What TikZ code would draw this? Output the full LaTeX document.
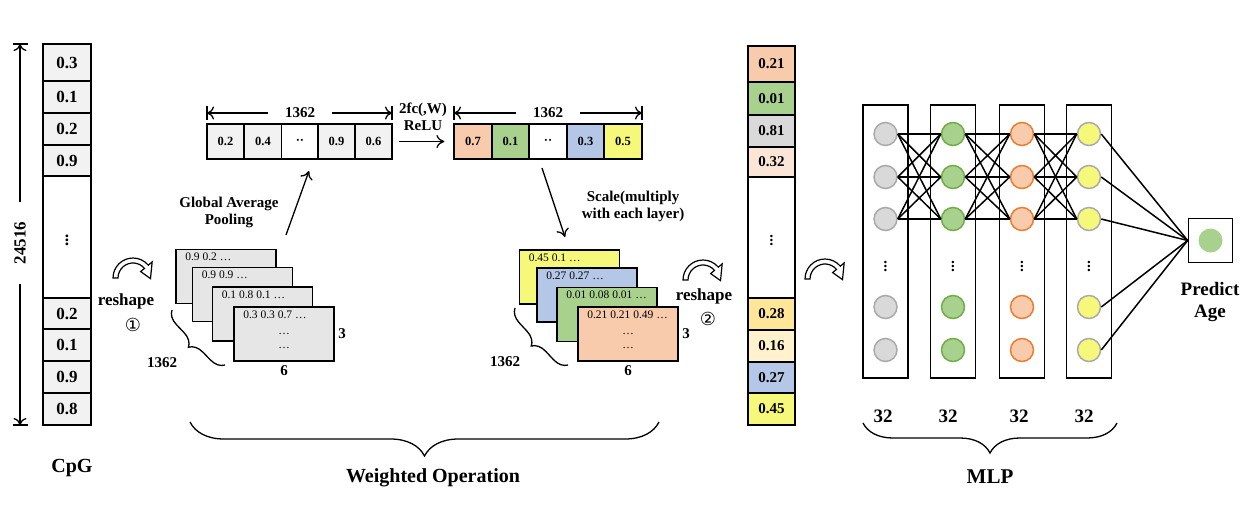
\documentclass[tikz,border=0pt]{standalone}
\usepackage{fontspec}
\setmainfont{Liberation Serif}
\newfontfamily\symfont{DejaVu Sans}
\usetikzlibrary{arrows.meta,positioning,decorations.pathreplacing}
\definecolor{cgray}{RGB}{242,242,242}
\definecolor{sgray}{RGB}{231,230,230}
\definecolor{cdgray}{RGB}{217,217,217}
\definecolor{corange}{RGB}{248,203,173}
\definecolor{cgreen}{RGB}{169,209,142}
\definecolor{cblue}{RGB}{180,199,231}
\definecolor{cyellow}{RGB}{246,248,122}
\definecolor{cpeach}{RGB}{251,229,214}
\definecolor{cgold}{RGB}{255,230,153}
\definecolor{ccream}{RGB}{255,242,204}
\definecolor{gborder}{RGB}{112,173,71}
\definecolor{oborder}{RGB}{237,125,49}
\definecolor{nborder}{RGB}{170,170,170}
\tikzset{
  cell/.style={draw, line width=1.7pt, inner sep=0pt, font=\bfseries\fontsize{12.5}{14}\selectfont},
  bold/.style={font=\bfseries\fontsize{15}{17}\selectfont, align=center},
  plain/.style={font=\fontsize{11.5}{13}\selectfont, inner sep=1pt},
  sheet/.style={draw, line width=1.7pt, minimum width=100pt, minimum height=54pt, inner sep=0pt},
  neuron/.style={circle, line width=1.5pt, minimum size=23pt, inner sep=0pt},
  lbox/.style={draw, line width=1.7pt, minimum width=45pt, minimum height=273pt, inner sep=0pt},
  link/.style={line width=1.5pt},
  dimline/.style={line width=1.3pt, -{To[length=7pt,width=13pt]}},
  flow/.style={line width=1.3pt, -{To[length=8pt,width=13pt]}},
  curly/.style={decorate, line width=1.3pt, decoration={brace, amplitude=#1}},
  turn/.pic={
    \draw[line width=1.2pt, fill=white] (180:20) arc[start angle=180, end angle=320, radius=20]
      -- (320:25) -- (2:17.5) -- (320:10) -- (320:15)
      arc[start angle=320, end angle=180, radius=15] -- cycle;
  }
}

\begin{document}
\begin{tikzpicture}[x=1pt,y=-1pt]
  \useasboundingbox (0,0) rectangle (1255,512);

  % input column
  \foreach \y/\hh/\fc/\txt [count=\i] in {62.5/37/cgray/0.3, 97/32/cgray/0.1, 129/32/cgray/0.2,
      160.5/31/cgray/0.9, 237/122/white/$\vdots$, 313.5/31/cgray/0.2, 345/32/cgray/0.1,
      377/32/cgray/0.9, 409/32/cgray/0.8}
    \node[cell, font=\bfseries\fontsize{17}{19}\selectfont, fill=\fc, minimum width=48pt,
      minimum height=\hh pt] (cpg\i) at (67,\y) {\txt};
  \coordinate (cpgtop) at (20,44);
  \coordinate (cpgbot) at (20,425);
  \draw[line width=1.3pt] (13,44) -- (28,44) (13,425) -- (28,425);
  \node[bold, font=\bfseries\fontsize{17}{19}\selectfont, rotate=90, inner xsep=20pt] (cpglen) at (20,243) {24516};
  \draw[dimline] (cpglen) -- (cpgtop);
  \draw[dimline] (cpglen) -- (cpgbot);
  \node[bold, font=\bfseries\fontsize{20}{22}\selectfont] (cpglab) at (72,468) {CpG};

  \pic at (133,278) {turn};
  \node[bold, font=\bfseries\fontsize{17}{19}\selectfont] (resh1) at (126,301) {reshape};
  \node[font=\symfont\fontsize{18}{20}\selectfont] (num1) at (133,325) {①};

  % pooled vector
  \foreach \x/\fc/\txt [count=\i] in {225.5/cgray/0.2, 263/cgray/0.4, 300/white/··, 336.5/cgray/0.9, 373.5/cgray/0.6}
    \node[cell, fill=\fc, minimum width=37pt, minimum height=35pt] (gap\i) at (\x,141.5) {\txt};
  \coordinate (gapleft) at (207,113);
  \coordinate (gapright) at (392,113);
  \draw[line width=1.3pt] (207,106) -- (207,120) (392,106) -- (392,120);
  \node[bold, inner xsep=17pt] (gaplen) at (300,113) {1362};
  \draw[dimline] (gaplen) -- (gapleft);
  \draw[dimline] (gaplen) -- (gapright);

  % weights vector
  \foreach \x/\fc/\txt [count=\i] in {473/corange/0.7, 510.5/cgreen/0.1, 548/white/··, 585.5/cblue/0.3, 623/cyellow/0.5}
    \node[cell, fill=\fc, minimum width=37.5pt, minimum height=35pt] (fc\i) at (\x,141.5) {\txt};
  \coordinate (fcleft) at (454,113);
  \coordinate (fcright) at (642,113);
  \draw[line width=1.3pt] (454,106) -- (454,120) (642,106) -- (642,120);
  \node[bold, inner xsep=17pt] (fclen) at (548,113) {1362};
  \draw[dimline] (fclen) -- (fcleft);
  \draw[dimline] (fclen) -- (fcright);

  \node[bold, inner sep=0pt] (fclab) at (423,117) {2fc(,W)\\ReLU};
  \draw[flow, shorten <=6pt, shorten >=9pt] (gap5.east) -- (fc1.west);

  \coordinate (gaptail) at (286,235);
  \coordinate (gaptip) at (309,171);
  \draw[flow] (gaptail) -- (gaptip);
  \node[bold] (gaplab) at (229,212) {Global Average\\Pooling};

  \coordinate (scaletail) at (542,168);
  \coordinate (scaletip) at (565,237);
  \draw[flow] (scaletail) -- (scaletip);
  \node[bold] (scalelab) at (633,206) {Scale(multiply\\with each layer)};

  % reshaped input
  \foreach \x/\y/\txt [count=\i] in {226/276.5/0.9 0.2 …, 242.5/294.5/0.9 0.9 …,
      262.5/314/0.1 0.8 0.1 …, 284/334/0.3 0.3 0.7 …} {
    \node[sheet, fill=sgray] (ls\i) at (\x,\y) {};
    \node[plain, below right=3pt and 9pt of ls\i.north west] {\txt};
  }
  \node[plain] (ldots1) at (ls4.center) {…};
  \node[plain, yshift=-14pt] (ldots2) at (ls4.center) {…};
  \node[bold, right=0pt of ls4] (lrows) {3};
  \node[bold, below=0pt of ls4] (lcols) {6};
  \draw[curly=14pt] (225,365) -- (172,310);
  \node[bold] (ldepth) at (162,363) {1362};

  % weighted maps
  \foreach \x/\y/\fc/\txt [count=\i] in {569.5/277/cyellow/0.45 0.1 …, 587/295/cblue/0.27 0.27 …,
      607/314.5/cgreen/0.01 0.08 0.01 …, 628/334/corange/0.21 0.21 0.49 …} {
    \node[sheet, fill=\fc] (rs\i) at (\x,\y) {};
    \node[plain, below right=3pt and 9pt of rs\i.north west] {\txt};
  }
  \node[plain] (rdots1) at (rs4.center) {…};
  \node[plain, yshift=-14pt] (rdots2) at (rs4.center) {…};
  \node[bold, right=0pt of rs4] (rrows) {3};
  \node[bold, below=0pt of rs4] (rcols) {6};
  \draw[curly=14pt] (568,365) -- (515,308);
  \node[bold] (rdepth) at (505,362) {1362};

  \pic at (703,280) {turn};
  \node[bold, font=\bfseries\fontsize{17}{19}\selectfont] (resh2) at (704,296) {reshape};
  \node[font=\symfont\fontsize{18}{20}\selectfont] (num2) at (708,319) {②};

  % weighted column
  \foreach \y/\hh/\fc/\txt [count=\i] in {64/36/corange/0.21, 98.5/33/cgreen/0.01, 131/32/cdgray/0.81,
      162/30/cpeach/0.32, 237.5/121/white/$\vdots$, 314/32/cgold/0.28, 346/32/ccream/0.16,
      377.5/31/cblue/0.27, 409/32/cyellow/0.45}
    \node[cell, font=\bfseries\fontsize{15}{17}\selectfont, fill=\fc, minimum width=47pt,
      minimum height=\hh pt] (sc\i) at (771.5,\y) {\txt};

  \draw[curly=34pt] (659,422) -- (190,422);
  \node[bold, font=\bfseries\fontsize{20}{22}\selectfont] (wlab) at (433,478) {Weighted Operation};

  \pic at (825,279) {turn};

  % MLP
  \foreach \lay/\x/\fc/\bc/\nx in {1/885.5/cdgray/nborder/883, 2/953/cgreen/gborder/948,
      3/1022/corange/oborder/1019, 4/1089/cyellow/nborder/1084} {
    \node[lbox] (lbox\lay) at (\x,241.5) {};
    \foreach \y [count=\j] in {134,177,219,307,350}
      \node[neuron, draw=\bc, fill=\fc] (n\lay-\j) at (\x,\y) {};
    \node[bold] (vd\lay) at (\x,263) {$\vdots$};
    \node[bold, font=\bfseries\fontsize{19}{21}\selectfont] (size\lay) at (\nx,416) {32};
  }
  \foreach \a/\b in {1/2,2/3,3/4}
    \foreach \i in {1,2,3}
      \foreach \j in {1,2,3}
        \draw[link] (n\a-\i.east) -- (n\b-\j.west);

  \node[draw, line width=1.7pt, minimum size=44pt, inner sep=0pt] (out) at (1210.5,240.5) {};
  \node[circle, fill=cgreen, minimum size=24pt, inner sep=0pt] (outn) at (out) {};
  \foreach \j in {1,...,5}
    \draw[link] (n4-\j.east) -- (out.west);
  \node[bold, font=\bfseries\fontsize{19}{22}\selectfont] (agelab) at (1210,302) {Predict\\Age};

  \draw[curly=30pt] (1117,423) -- (863,423);
  \node[bold, font=\bfseries\fontsize{21}{23}\selectfont] (mlplab) at (990,477) {MLP};
\end{tikzpicture}
\end{document}
